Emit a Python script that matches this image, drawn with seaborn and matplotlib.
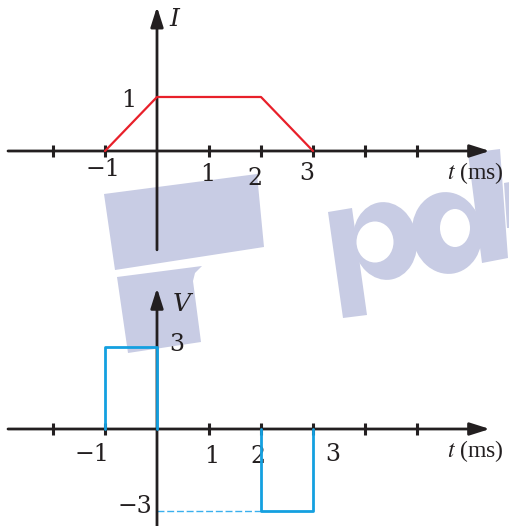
import numpy as np
import pandas as pd
import matplotlib
matplotlib.use("Agg")
import matplotlib.pyplot as plt
from matplotlib.patches import Polygon, Ellipse
import seaborn as sns

# current I(t) and voltage V(t), t in ms
t_i = [-1, 0, 2, 3]
i_val = [0, 1, 1, 0]

t_v = [-1, -1, 0, 0, 2, 2, 3, 3]
v_val = [0, 3, 3, 0, 0, -3, -3, 0]
v_seg = [0, 0, 0, 0, 1, 1, 1, 1]

tick_vals = [-2, -1, 1, 2, 3, 4, 5]

RED = "#e8202a"
BLUE = "#14a0e0"
INK = "#231f20"
WM = "#c8cce4"

sns.set_theme(style="white")
plt.rcParams["font.family"] = ["DejaVu Serif"]
plt.rcParams["mathtext.fontset"] = "stix"

fig = plt.figure(figsize=(5.1, 5.26), dpi=100)

# watermark layer, pixel coords
wm = fig.add_axes([0, 0, 1, 1])
wm.set_xlim(0, 510)
wm.set_ylim(526, 0)
wm.axis("off")
wm.set_zorder(0)
for pts in [[(104, 194), (257, 174), (264, 247), (115, 270)],
            [(117, 277), (202, 266), (195, 273), (193, 281), (201, 342), (128, 353)],
            [(328, 212), (352, 208), (367, 315), (343, 318)],
            [(468, 153), (500, 149), (508, 258), (482, 263)],
            [(504, 183), (510, 182), (510, 228), (507, 228)]]:
    wm.add_patch(Polygon(pts, closed=True, fc=WM, ec="none"))
wm.add_patch(Ellipse((385, 241), 64, 78, angle=-8, fc=WM, ec="none"))
wm.add_patch(Ellipse((375, 242), 37, 41, fc="white", ec="none"))
wm.add_patch(Ellipse((447, 233), 70, 82, angle=-8, fc=WM, ec="none"))
wm.add_patch(Ellipse((455, 228), 30, 38, fc="white", ec="none"))

ax_i = fig.add_axes([0, 0.5, 1, 0.5])
ax_v = fig.add_axes([0, 0, 1, 0.5])

df_i = pd.DataFrame({"t": t_i, "I": i_val})
df_v = pd.DataFrame({"t": t_v, "V": v_val, "seg": v_seg})

sns.lineplot(data=df_i, x="t", y="I", sort=False, estimator=None,
             color=RED, lw=1.6, ax=ax_i, zorder=4)
sns.lineplot(data=df_v, x="t", y="V", units="seg", sort=False, estimator=None,
             color=BLUE, lw=2.0, ax=ax_v, zorder=4)
# dashed guide to -3
neg_start = t_v[v_val.index(min(v_val))]
ax_v.hlines(min(v_val), 0, neg_start, colors="#3ab0ee", lw=1.0,
            linestyles=(0, (5, 2)), zorder=3)

ax_i.set_xlim(-3.019, 6.788)
ax_i.set_ylim(-2.074, 2.796)
ax_v.set_xlim(-3.019, 6.788)
ax_v.set_ylim(-3.566, 6.103)

arrow = dict(arrowstyle="-|>,head_length=1.2,head_width=0.38", mutation_scale=10,
             lw=2.0, color=INK, shrinkA=0, shrinkB=0)
for ax, ybot, ytop in [(ax_i, -1.83, 2.67), (ax_v, -3.566, 5.18)]:
    ax.set_zorder(1)
    ax.set_facecolor("none")
    ax.set_xlabel("")
    ax.set_ylabel("")
    for s in ["top", "right", "left"]:
        ax.spines[s].set_visible(False)
    ax.spines["bottom"].set_position(("data", 0))
    ax.spines["bottom"].set_linewidth(0)
    ax.set_xticks(tick_vals)
    ax.set_xticklabels([])
    ax.set_yticks([])
    ax.tick_params(axis="x", direction="inout", length=8, width=2.2, color=INK,
                   bottom=True)
    ax.annotate("", xy=(6.40, 0), xytext=(-2.865, 0), arrowprops=arrow,
                annotation_clip=False, zorder=3)
    ax.annotate("", xy=(0, ytop), xytext=(0, ybot), arrowprops=arrow,
                annotation_clip=False, zorder=3)

num = dict(fontsize=17, color=INK, ha="center", va="center")
var = dict(fontsize=18, style="italic", color=INK, ha="center", va="center")
tms = dict(fontsize=17, color=INK, ha="left", va="center", family=["Liberation Serif"])

# top panel labels
ax_i.text(-1.04, -0.35, "\u22121", **num)
ax_i.text(0.98, -0.43, "1", **num)
ax_i.text(1.88, -0.51, "2", **num)
ax_i.text(2.88, -0.41, "3", **num)
ax_i.text(-0.54, 0.94, "1", **num)
ax_i.text(0.33, 2.43, "I", **var)
ax_i.text(5.58, -0.40, "$t$ (ms)", **tms)

# bottom panel labels
ax_v.text(-1.25, -0.93, "\u22121", **num)
ax_v.text(1.06, -1.02, "1", **num)
ax_v.text(1.94, -1.02, "2", **num)
ax_v.text(3.37, -0.92, "3", **num)
ax_v.text(0.38, 3.10, "3", **num)
ax_v.text(-0.42, -2.86, "\u22123", **num)
ax_v.text(0.48, 4.56, "V", **var)
ax_v.text(5.58, -0.80, "$t$ (ms)", **tms)

fig.savefig("out.png", dpi=100)
